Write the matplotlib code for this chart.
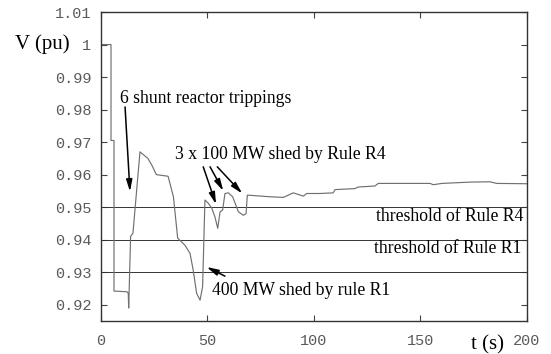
import matplotlib
matplotlib.use('Agg')
import matplotlib.pyplot as plt

# voltage trace
t = [0, 4.7, 4.7, 6.1, 6.1, 12.2, 12.8, 13.0, 13.9, 15.0, 18.3, 22, 23.8, 26, 31.5,
     34, 36, 39.4, 41.8, 43.3, 44.9, 46.5, 47.7, 48.8, 50.4, 52, 53.5, 54.8, 55.9,
     57.1, 58.2, 59.8, 61.8, 64.5, 66.8, 68.1, 68.7, 73.1, 79.3, 85.6, 90.3, 95,
     96.6, 102.8, 109, 109.9, 119.2, 120.8, 128.6, 130.2, 154.5, 156, 160, 173.2,
     182.6, 185.8, 200]
v = [1.0, 1.0, 0.9705, 0.9705, 0.9242, 0.9240, 0.9235, 0.919, 0.941, 0.942, 0.967,
     0.965, 0.963, 0.960, 0.9595, 0.9532, 0.9405, 0.9383, 0.9358, 0.9306, 0.9235,
     0.9214, 0.9255, 0.9522, 0.9512, 0.9497, 0.947, 0.9435, 0.9486, 0.9491, 0.9542,
     0.9544, 0.9532, 0.9486, 0.9475, 0.948, 0.9537, 0.9535, 0.9532, 0.953, 0.9544,
     0.9534, 0.9542, 0.9542, 0.9544, 0.9554, 0.9557, 0.9562, 0.9565, 0.9573, 0.9573,
     0.9569, 0.9573, 0.9577, 0.9578, 0.9573, 0.9572]

thresholds = [0.95, 0.94, 0.93]
x_ticks = [0, 50, 100, 150, 200]
y_ticks = [0.92, 0.93, 0.94, 0.95, 0.96, 0.97, 0.98, 0.99, 1.0, 1.01]
y_tick_labels = ['0.92', '0.93', '0.94', '0.95', '0.96', '0.97', '0.98', '0.99', '1', '1.01']

serif = 'Liberation Serif'
mono = 'Liberation Mono'
fs = 12.7

fig = plt.figure(figsize=(5.51, 3.54), dpi=100)
ax = fig.add_axes([0.1833, 0.0932, 0.7731, 0.8729])

for th in thresholds:
    ax.axhline(th, color='#333333', lw=0.7)

ax.plot(t, v, color='#707070', lw=0.85)

ax.set_xlim(0, 200)
ax.set_ylim(0.915, 1.01)
ax.set_xticks(x_ticks)
ax.set_xticklabels([str(x) for x in x_ticks])
ax.set_yticks(y_ticks)
ax.set_yticklabels(y_tick_labels)
ax.tick_params(direction='in', top=True, right=True, length=4, width=0.8,
               color='#444444', labelcolor='#5a5a5a', labelsize=11)
ax.tick_params(axis='y', pad=7)
ax.tick_params(axis='x', pad=9)
for lab in ax.get_xticklabels() + ax.get_yticklabels():
    lab.set_family(mono)
for s in ax.spines.values():
    s.set_color('#333333')
    s.set_linewidth(1.0)

fig.text(0.027, 0.875, 'V (pu)', family=serif, fontsize=15, va='center', ha='left')
fig.text(0.884, 0.025, 't (s)', family=serif, fontsize=15, va='center', ha='center')

arrow = dict(arrowstyle='-|>,head_length=0.7,head_width=0.18', color='black', lw=1.1,
             shrinkA=0, shrinkB=0)

ax.text(8.8, 0.9835, '6 shunt reactor trippings', family=serif, fontsize=fs, va='center')
ax.annotate('', xy=(13.6, 0.9548), xytext=(11.3, 0.9808), arrowprops=arrow)

ax.text(34.8, 0.9662, '3 x 100 MW shed by Rule R4', family=serif, fontsize=fs, va='center')
ax.annotate('', xy=(54.0, 0.9509), xytext=(48.0, 0.9624), arrowprops=arrow)
ax.annotate('', xy=(57.4, 0.9550), xytext=(51.2, 0.9624), arrowprops=arrow)
ax.annotate('', xy=(66.3, 0.9542), xytext=(54.6, 0.9624), arrowprops=arrow)

ax.text(52.3, 0.9245, '400 MW shed by rule R1', family=serif, fontsize=fs, va='center')
ax.annotate('', xy=(49.6, 0.9316), xytext=(58.2, 0.9288), arrowprops=arrow)

ax.text(198.5, 0.9470, 'threshold of Rule R4', family=serif, fontsize=fs, va='center', ha='right')
ax.text(197.5, 0.9372, 'threshold of Rule R1', family=serif, fontsize=fs, va='center', ha='right')

plt.savefig('out.png', dpi=100)
